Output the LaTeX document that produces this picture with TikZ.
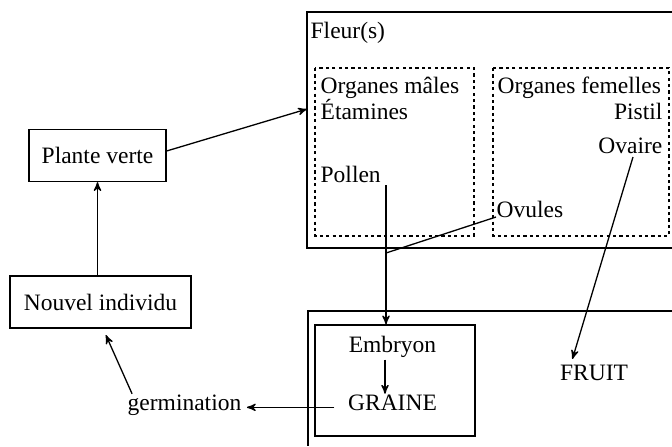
\documentclass[tikz,border=0pt]{standalone}
\usepackage{fontspec}
\setmainfont{Liberation Serif}
\usetikzlibrary{arrows,positioning}

\begin{document}
\begin{tikzpicture}[x=0.5pt,y=-0.5pt,->,>=stealth',line width=0.65pt,
        font=\fontsize{11.75}{14}\selectfont,
        frame/.style={-,line width=0.6pt},
        organ box/.style={-,line width=0.7pt,dash pattern=on 1.6pt off 1.6pt},
        stage node/.style={draw,-,line width=0.6pt,inner sep=0pt,minimum height=26pt},
        label node/.style={inner sep=0pt}]
    \useasboundingbox (0,0) rectangle (672,446);

    % left: the plant
    \node[stage node,minimum width=68.5pt] (plante) at (97.5,155.5) {Plante verte};
    \node[stage node,minimum width=90.5pt] (nouvel) at (100.5,302) {Nouvel individu};

    % the flower
    \draw[frame] (672,12) -| (307,248) -- (672,248);
    \draw[organ box] (315,68) rectangle (474,236);
    \draw[organ box] (493,68) rectangle (669,236);
    \node[label node,anchor=base west] (fleurs) at (310,38) {Fleur(s)};
    \node[label node,anchor=base west] (orgm) at (320,93) {Organes mâles};
    \node[label node,anchor=base west] (etam) at (320,119) {Étamines};
    \node[label node,anchor=base west] (pollen) at (320,182) {Pollen};
    \node[label node,anchor=base west] (orgf) at (497,93) {Organes femelles};
    \node[label node,anchor=base east] (pistil) at (663,119) {Pistil};
    \node[label node,anchor=base east] (ovaire) at (663,153) {Ovaire};
    \node[label node,anchor=base west] (ovules) at (496,217) {Ovules};

    % the seed and the fruit
    \draw[frame] (672,311) -| (308,446);
    \node[draw,-,line width=0.6pt,minimum width=80pt,minimum height=55.5pt] (grainebox) at (395,380.5) {};
    \node[label node,anchor=base] (embryon) at (392.5,352) {Embryon};
    \node[label node,anchor=base] (graine) at (392.5,410) {GRAINE};
    \node[label node,anchor=base] (germ) at (184.5,410) {germination};
    \node[label node,anchor=base] (fruit) at (594,380) {FRUIT};

    \coordinate (fleurin) at (307,109);
    \coordinate (pollenfoot) at (386,185);
    \coordinate (fusion) at (386,253);
    \coordinate (ovairefoot) at (633,157);
    \coordinate (g0) at ([shift={(-13,5)}]graine.west);

    \draw (nouvel.north -| plante.south) -- (plante.south);
    \draw ([yshift=2.25pt]plante.east) -- (fleurin);
    \draw (pollenfoot) -- (pollenfoot |- grainebox.north);
    \draw[-] (ovules.base west) -- (fusion);
    \draw (ovairefoot) -- ([shift={(13,-5)}]fruit.north west);
    \draw[shorten <=1pt] ([xshift=-3.75pt]embryon.south) -- ([xshift=-3.75pt]graine.north);
    \draw[shorten >=2.5pt] (g0) -- (g0 -| germ.east);
    \draw[shorten >=3.5pt] ([xshift=2.5pt]germ.north west) -- ([xshift=1.25pt]nouvel.south);
\end{tikzpicture}
\end{document}
